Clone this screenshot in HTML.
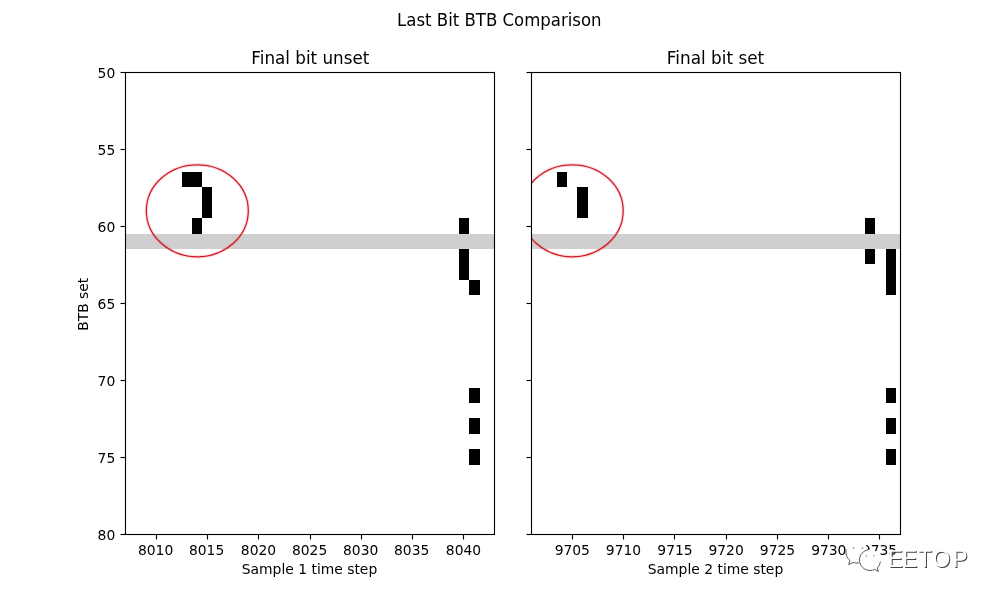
<!DOCTYPE html>
<html lang="en">
<head>
<meta charset="utf-8">
<title>Last Bit BTB Comparison</title>
<style>
  html, body { margin: 0; padding: 0; background: #ffffff; }
  body { width: 1000px; height: 600px; overflow: hidden; }
  svg { display: block; will-change: transform; }
  text { font-family: "DejaVu Sans", "Liberation Sans", sans-serif; fill: #000000; }
  .t12 { font-size: 16.667px; }
  .t10 { font-size: 13.889px; }
  .spine { fill: none; stroke: #000000; stroke-width: 1.11; }
  .tick { stroke: #000000; stroke-width: 1.11; }
  .cell { fill: #000000; shape-rendering: crispEdges; }
  .band { fill: #d0cfd0; shape-rendering: crispEdges; }
  .halo { fill: none; stroke: #ff3030; stroke-opacity: 0.16; stroke-width: 3.4; }
  .ring { fill: none; stroke: #cc1c28; stroke-width: 1.25; }
  .wm text { font-family: "Liberation Sans", sans-serif; font-size: 22.6px; }
</style>
</head>
<body>
<svg width="1000" height="600" viewBox="0 0 1000 600">
<rect x="0" y="0" width="1000" height="600" fill="#ffffff"/>
<defs>
  <clipPath id="clipA"><rect x="126" y="73" width="368" height="461"/></clipPath>
  <clipPath id="clipB"><rect x="532" y="73" width="368" height="461"/></clipPath>
</defs>
<text class="t12" transform="translate(499.3 25.7) scale(0.993 1.05)" text-anchor="middle">Last Bit BTB Comparison</text>

<!-- panel A -->
<g>
<rect class="cell" x="182" y="172" width="20" height="15"/>
<rect class="cell" x="202" y="187" width="10" height="31"/>
<rect class="cell" x="192" y="218" width="10" height="16"/>
<rect class="cell" x="459" y="218" width="10" height="62"/>
<rect class="cell" x="469" y="280" width="11" height="15"/>
<rect class="cell" x="469" y="388" width="11" height="15"/>
<rect class="cell" x="469" y="418" width="11" height="16"/>
<rect class="cell" x="469" y="449" width="11" height="16"/>
<rect class="band" x="126" y="234" width="368" height="15"/>
<g clip-path="url(#clipA)">
  <ellipse class="halo" cx="197.3" cy="210.8" rx="51" ry="46"/>
  <ellipse class="ring" cx="197.3" cy="210.8" rx="51" ry="46"/>
</g>
<line class="tick" x1="156.5" y1="534.5" x2="156.5" y2="539.5"/><text class="t10" x="155.6" y="554.9" text-anchor="middle">8010</text>
<line class="tick" x1="207.5" y1="534.5" x2="207.5" y2="539.5"/><text class="t10" x="206.6" y="554.9" text-anchor="middle">8015</text>
<line class="tick" x1="258.5" y1="534.5" x2="258.5" y2="539.5"/><text class="t10" x="258.5" y="554.9" text-anchor="middle">8020</text>
<line class="tick" x1="310.5" y1="534.5" x2="310.5" y2="539.5"/><text class="t10" x="309.6" y="554.9" text-anchor="middle">8025</text>
<line class="tick" x1="361.5" y1="534.5" x2="361.5" y2="539.5"/><text class="t10" x="360.7" y="554.9" text-anchor="middle">8030</text>
<line class="tick" x1="412.5" y1="534.5" x2="412.5" y2="539.5"/><text class="t10" x="411.7" y="554.9" text-anchor="middle">8035</text>
<line class="tick" x1="463.5" y1="534.5" x2="463.5" y2="539.5"/><text class="t10" x="463.5" y="554.9" text-anchor="middle">8040</text>
<line class="tick" x1="120.5" y1="72.5" x2="125.5" y2="72.5"/><text class="t10" x="115.28" y="78" text-anchor="end">50</text>
<line class="tick" x1="120.5" y1="149.5" x2="125.5" y2="149.5"/><text class="t10" x="115.28" y="155" text-anchor="end">55</text>
<line class="tick" x1="120.5" y1="226.5" x2="125.5" y2="226.5"/><text class="t10" x="115.28" y="232" text-anchor="end">60</text>
<line class="tick" x1="120.5" y1="303.5" x2="125.5" y2="303.5"/><text class="t10" x="115.28" y="309" text-anchor="end">65</text>
<line class="tick" x1="120.5" y1="380.5" x2="125.5" y2="380.5"/><text class="t10" x="115.28" y="386" text-anchor="end">70</text>
<line class="tick" x1="120.5" y1="457.5" x2="125.5" y2="457.5"/><text class="t10" x="115.28" y="463" text-anchor="end">75</text>
<line class="tick" x1="120.5" y1="534.5" x2="125.5" y2="534.5"/><text class="t10" x="115.28" y="540" text-anchor="end">80</text>
<rect class="spine" x="125.5" y="72.5" width="369" height="462"/>
<text class="t12" transform="translate(310.3 63.67) scale(1.006 1.05)" text-anchor="middle">Final bit unset</text>
<text class="t10" x="309.5" y="574" text-anchor="middle">Sample 1 time step</text>
</g>
<text class="t10" transform="translate(88.2 304.3) rotate(-90)" text-anchor="middle">BTB set</text>

<!-- panel B -->
<g>
<rect class="cell" x="557" y="172" width="10" height="15"/>
<rect class="cell" x="577" y="187" width="11" height="31"/>
<rect class="cell" x="865" y="218" width="10" height="46"/>
<rect class="cell" x="886" y="249" width="10" height="46"/>
<rect class="cell" x="886" y="388" width="10" height="15"/>
<rect class="cell" x="886" y="418" width="10" height="16"/>
<rect class="cell" x="886" y="449" width="10" height="16"/>
<rect class="band" x="532" y="234" width="368" height="15"/>
<g clip-path="url(#clipB)">
  <ellipse class="halo" cx="572.2" cy="210.8" rx="51" ry="46"/>
  <ellipse class="ring" cx="572.2" cy="210.8" rx="51" ry="46"/>
</g>
<line class="tick" x1="572.5" y1="534.5" x2="572.5" y2="539.5"/><text class="t10" x="572.3" y="554.9" text-anchor="middle">9705</text>
<line class="tick" x1="623.5" y1="534.5" x2="623.5" y2="539.5"/><text class="t10" x="623.5" y="554.9" text-anchor="middle">9710</text>
<line class="tick" x1="674.5" y1="534.5" x2="674.5" y2="539.5"/><text class="t10" x="675" y="554.9" text-anchor="middle">9715</text>
<line class="tick" x1="726.5" y1="534.5" x2="726.5" y2="539.5"/><text class="t10" x="726.1" y="554.9" text-anchor="middle">9720</text>
<line class="tick" x1="777.5" y1="534.5" x2="777.5" y2="539.5"/><text class="t10" x="777.5" y="554.9" text-anchor="middle">9725</text>
<line class="tick" x1="828.5" y1="534.5" x2="828.5" y2="539.5"/><text class="t10" x="828.8" y="554.9" text-anchor="middle">9730</text>
<line class="tick" x1="879.5" y1="534.5" x2="879.5" y2="539.5"/><text class="t10" x="879.5" y="554.9" text-anchor="middle">9735</text>
<line class="tick" x1="526.5" y1="72.5" x2="531.5" y2="72.5"/>
<line class="tick" x1="526.5" y1="149.5" x2="531.5" y2="149.5"/>
<line class="tick" x1="526.5" y1="226.5" x2="531.5" y2="226.5"/>
<line class="tick" x1="526.5" y1="303.5" x2="531.5" y2="303.5"/>
<line class="tick" x1="526.5" y1="380.5" x2="531.5" y2="380.5"/>
<line class="tick" x1="526.5" y1="457.5" x2="531.5" y2="457.5"/>
<line class="tick" x1="526.5" y1="534.5" x2="531.5" y2="534.5"/>
<rect class="spine" x="531.5" y="72.5" width="369" height="462"/>
<text class="t12" transform="translate(715.5 63.67) scale(1.012 1.05)" text-anchor="middle">Final bit set</text>
<text class="t10" x="715.5" y="574" text-anchor="middle">Sample 2 time step</text>
</g>

<!-- watermark: chat-bubble logo + EETOP (white with grey drop shadow) -->
<g class="wm">
  <g fill="#ffffff" stroke="none">
    <path d="M856.8 540.8c-6.3 0-11.3 4.9-11.3 11 0 3.5 1.7 6.6 4.3 8.6l-1.2 4.2 4.6-2.3c1.1 .3 2.3 .5 3.6 .5 6.3 0 11.3-4.9 11.3-11s-5-11-11.3-11z"/>
    <path d="M870 549.5c-5.8 0-10.5 4.7-10.5 10.5s4.7 10.5 10.5 10.5c1.7 0 3.3-.4 4.7-1.1l3.7 2.1-1-3.8c1.9-1.9 3.1-4.6 3.1-7.7 0-5.8-4.7-10.5-10.5-10.5z"/>
  </g>
  <g fill="none" stroke="#4a4a4a" stroke-width="0.9" stroke-linecap="round">
    <path d="M846.1 549.5c-.8 4.3 .6 8.3 3.8 10.9l-1.3 4.2 4.5-2.1c1.7 .5 3.6 .7 5.6 .5"/>
    <path d="M868.2 549.7c-5 .9-8.7 5.1-8.7 10.3 0 5.8 4.7 10.5 10.5 10.5 1.7 0 3.3-.4 4.7-1.1l3.6 2-.9-3.7c1.5-1.5 2.6-3.5 2.9-5.7"/>
  </g>
  <g fill="#8a8a8a">
    <circle cx="853.5" cy="547.8" r="0.9"/><circle cx="862.5" cy="548.1" r="0.9"/>
    <circle cx="866.3" cy="556" r="0.8"/><circle cx="873.8" cy="555.7" r="0.8"/>
  </g>
  <g transform="translate(888.3 566.6) scale(1 1.09)">
    <text x="0.55 15 30.6 45.4 65.1" y="0.9" style="fill:#444444">EETOP</text>
    <text x="-0.45 14 29.6 44.4 64.1" y="0" style="fill:#ffffff">EETOP</text>
  </g>
</g>
</svg>
</body>
</html>
